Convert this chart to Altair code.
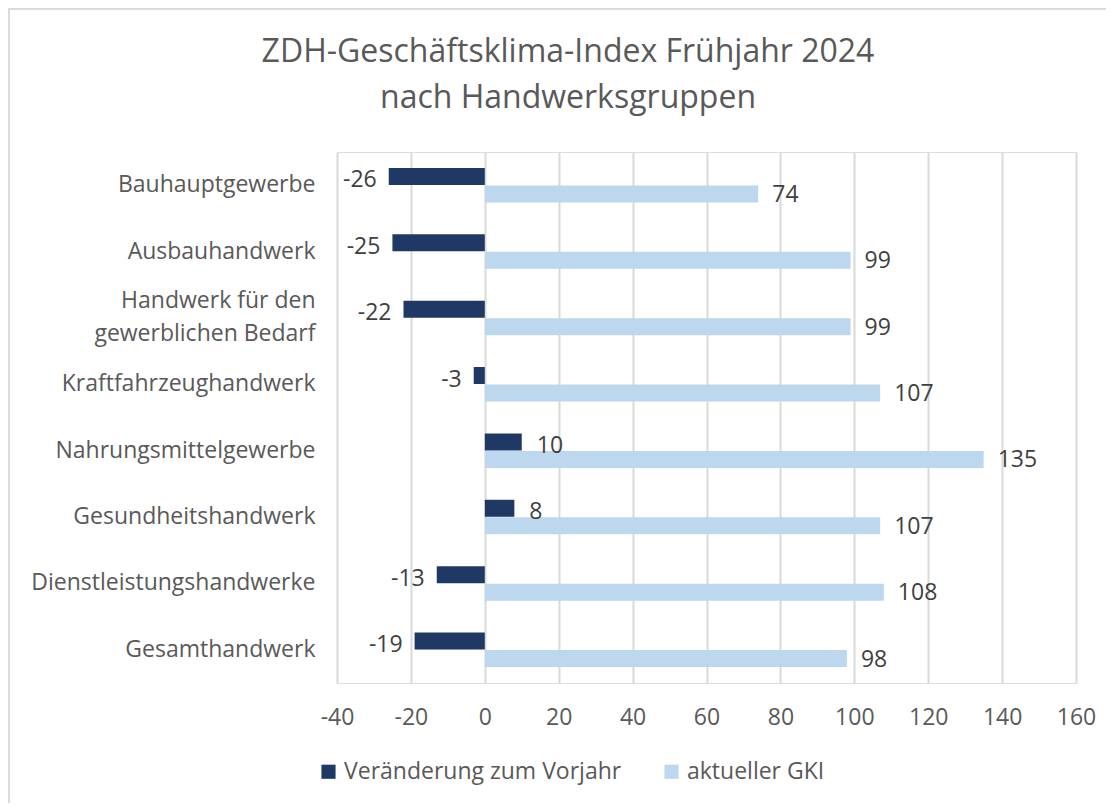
import altair as alt
import pandas as pd

categories = [
    "Bauhauptgewerbe",
    "Ausbauhandwerk",
    "Handwerk für den|gewerblichen Bedarf",
    "Kraftfahrzeughandwerk",
    "Nahrungsmittelgewerbe",
    "Gesundheitshandwerk",
    "Dienstleistungshandwerke",
    "Gesamthandwerk",
]
change = [-26, -25, -22, -3, 10, 8, -13, -19]
gki = [74, 99, 99, 107, 135, 107, 108, 98]
series = ["Veränderung zum Vorjahr", "aktueller GKI"]
colors = ["#203864", "#BDD7EE"]
x_ticks = list(range(-40, 161, 20))
title_lines = ["ZDH-Geschäftsklima-Index Frühjahr 2024", "nach Handwerksgruppen"]

rows = []
for c, a, b in zip(categories, change, gki):
    rows.append({"cat": c, "series": series[0], "value": a})
    rows.append({"cat": c, "series": series[1], "value": b})
df = pd.DataFrame(rows)

FONT = "Open Sans"
GRAY = "#595959"
FS = 23

y_enc = alt.Y(
    "cat:N",
    sort=categories,
    title=None,
    scale=alt.Scale(paddingInner=0.47, paddingOuter=0.235),
    axis=alt.Axis(
        labelExpr="split(datum.label, '|')",
        labelFontSize=FS,
        labelColor=GRAY,
        labelFont=FONT,
        labelPadding=22,
        labelLimit=0,
        ticks=False,
        domain=False,
        grid=False,
        labelLineHeight=33,
        labelOffset={"condition": {"test": "indexof(datum.value, '|') >= 0", "value": -17}, "value": 0},
    ),
)
yoff_enc = alt.YOffset("series:N", sort=series, scale=alt.Scale(paddingInner=0, paddingOuter=0))
x_enc = alt.X(
    "value:Q",
    title=None,
    scale=alt.Scale(domain=[-40, 160], nice=False),
    axis=alt.Axis(
        values=x_ticks,
        labelExpr="'' + datum.value",
        labelFontSize=FS,
        labelColor=GRAY,
        labelFont=FONT,
        labelPadding=23,
        labelFlush=False,
        ticks=False,
        domain=False,
        grid=True,
        gridColor="#d9d9d9",
        gridWidth=2,
    ),
)

base = alt.Chart(df).transform_calculate(lbl="'' + datum.value")

# outer frame and title (decorations)
border = alt.Chart(df).mark_rect(
    fill=None, stroke="#d9d9d9", strokeWidth=2.5
).encode(
    x=alt.value(-329), x2=alt.value(800), y=alt.value(-144), y2=alt.value(700)
)
title1 = alt.Chart(pd.DataFrame({"t": [title_lines[0]]})).mark_text(
    fontSize=32, font=FONT, color=GRAY, align="center", baseline="middle"
).encode(text="t:N", x=alt.value(231), y=alt.value(-100))
title2 = alt.Chart(pd.DataFrame({"t": [title_lines[1]]})).mark_text(
    fontSize=32, font=FONT, color=GRAY, align="center", baseline="middle"
).encode(text="t:N", x=alt.value(231), y=alt.value(-54))

bars = base.mark_bar(size=17).encode(
    y=y_enc,
    yOffset=yoff_enc,
    x=x_enc,
    color=alt.Color(
        "series:N",
        sort=series,
        scale=alt.Scale(domain=series, range=colors),
        legend=alt.Legend(
            title=None,
            orient="none",
            legendX=-20,
            legendY=608,
            direction="horizontal",
            symbolType="square",
            symbolSize=200,
            symbolStrokeWidth=0,
            labelFontSize=FS,
            labelColor=GRAY,
            labelFont=FONT,
            labelLimit=0,
            columnPadding=38,
            labelOffset=4,
        ),
    ),
)

txt_common = dict(fontSize=FS, color="#404040", font=FONT, baseline="middle")

neg_dark = base.transform_filter(
    (alt.datum.series == series[0]) & (alt.datum.value < 0)
).mark_text(align="right", dx=-12, dy=4, **txt_common).encode(
    y=y_enc, yOffset=yoff_enc, x="value:Q", text="lbl:N"
)
pos_dark = base.transform_filter(
    (alt.datum.series == series[0]) & (alt.datum.value >= 0)
).mark_text(align="left", dx=15, dy=4, **txt_common).encode(
    y=y_enc, yOffset=yoff_enc, x="value:Q", text="lbl:N"
)
light = base.transform_filter(
    alt.datum.series == series[1]
).mark_text(align="left", dx=14, dy=1, **txt_common).encode(
    y=y_enc, yOffset=yoff_enc, x="value:Q", text="lbl:N"
)

chart = (
    alt.layer(border, title1, title2, bars, neg_dark, pos_dark, light)
    .properties(
        width=739,
        height=531,
        autosize=alt.AutoSizeParams(type="none"),
        padding={"left": 329, "top": 144, "right": 30, "bottom": 120},
    )
    .configure_view(strokeWidth=0, stroke="transparent")
    .configure(background="white")
)

chart.save("out.html", embed_options={"renderer": "svg", "actions": False})
